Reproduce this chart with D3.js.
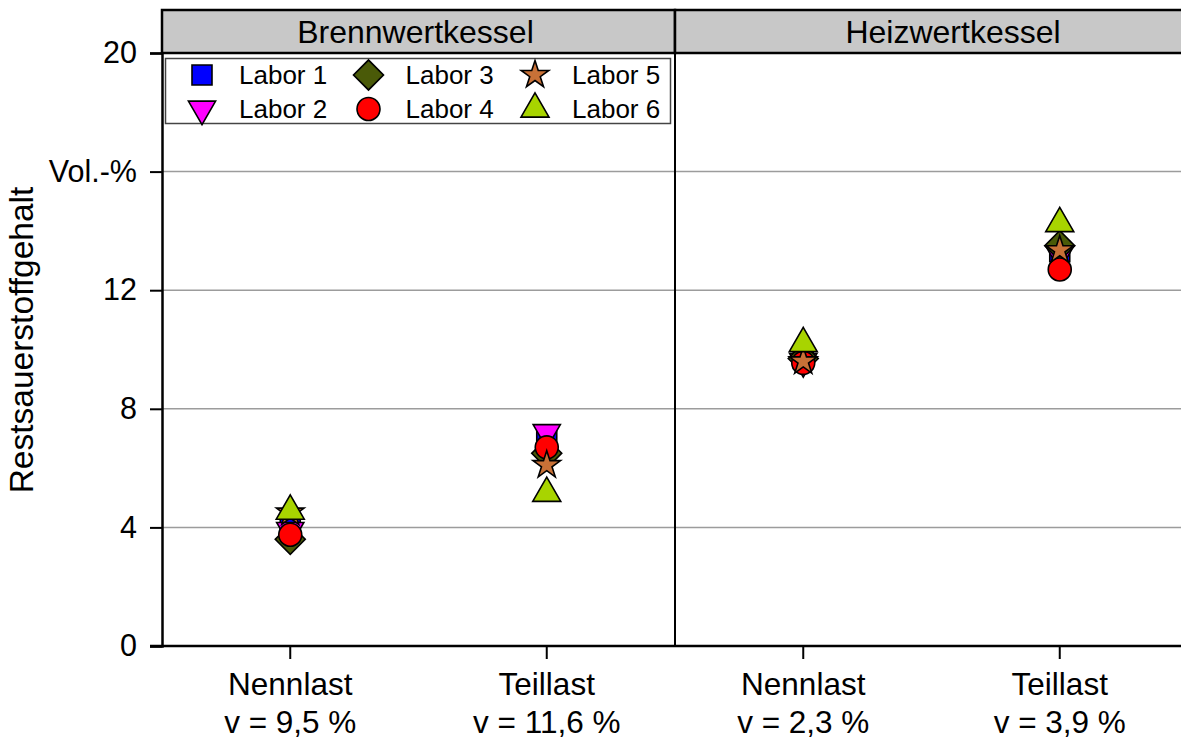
<!DOCTYPE html>
<html>
<head>
<meta charset="utf-8">
<script src="https://cdn.jsdelivr.net/npm/d3@7"></script>
<style>
  body { margin: 0; background: #fff; }
  text { font-family: Arial, "Liberation Sans", sans-serif; fill: #000; }
</style>
</head>
<body>
<svg id="chart"></svg>
<script>
// data
const panels = ['Brennwertkessel', 'Heizwertkessel'];
const categories = ['Nennlast', 'Teillast'];
const variation = [['9,5', '11,6'], ['2,3', '3,9']];
const labs = ['Labor 1', 'Labor 2', 'Labor 3', 'Labor 4', 'Labor 5', 'Labor 6'];
// values per lab: [BW Nennlast, BW Teillast, HW Nennlast, HW Teillast]
const labor1 = [4.0, 6.9, 9.7, 13.3];
const labor2 = [3.9, 7.2, 9.6, 13.2];
const labor3 = [3.6, 6.5, 9.7, 13.5];
const labor4 = [3.75, 6.7, 9.55, 12.7];
const labor5 = [4.5, 6.1, 9.6, 13.35];
const labor6 = [4.55, 5.15, 10.2, 14.25];
const yTicks = [0, 4, 8, 12, 16, 20];

const series = [labor1, labor2, labor3, labor4, labor5, labor6];

// size and layout
const W = 1181, H = 740;
const plot = { left: 162, top: 53, bottom: 646 };
const panelWidth = 513;
const stripTop = 10;

// marker styles
const colors = ['#0000ff', '#ff00ff', '#4a5a08', '#ff0000', '#c87137', '#a8d400'];
const shapes = [
  { type: d3.symbolSquare, size: 400, rot: 0 },
  { type: d3.symbolTriangle, size: 320, rot: 180 },
  { type: d3.symbolSquare, size: 450, rot: 45 },
  { type: d3.symbolCircle, size: 415, rot: 0 },
  { type: d3.symbolStar, size: 236, rot: 0 },
  { type: d3.symbolTriangle, size: 340, rot: 0 }
];

const svg = d3.select('#chart')
  .attr('width', W)
  .attr('height', H);

const y = d3.scaleLinear().domain([0, 20]).range([plot.bottom, plot.top]);
const x = d3.scaleBand().domain(categories).range([0, panelWidth]);
const panelX = d3.scaleBand().domain(panels).range([plot.left, plot.left + 2 * panelWidth]);

// gridlines
svg.append('g').selectAll('line')
  .data(yTicks.filter(d => d > 0 && d < 20))
  .enter().append('line')
    .attr('x1', plot.left).attr('x2', W)
    .attr('y1', d => y(d)).attr('y2', d => y(d))
    .style('stroke', '#9c9c9c')
    .style('stroke-width', 1.5);

// strips
const strip = svg.append('g').selectAll('g')
  .data(panels)
  .enter().append('g')
    .attr('transform', d => `translate(${panelX(d)},0)`);

strip.append('rect')
  .attr('x', 0).attr('y', stripTop)
  .attr('width', (d, i) => i === 0 ? panelWidth : 560)
  .attr('height', plot.top - stripTop)
  .style('fill', '#c8c8c8')
  .style('stroke', '#000')
  .style('stroke-width', 2.5);

strip.append('text')
  .attr('x', (d, i) => i === 0 ? panelWidth / 2 - 3 : 278)
  .attr('y', 43)
  .attr('text-anchor', 'middle')
  .style('font-size', '32px')
  .text(d => d);

// panel divider
svg.append('line')
  .attr('x1', panelX(panels[1])).attr('x2', panelX(panels[1]))
  .attr('y1', plot.top).attr('y2', plot.bottom)
  .style('stroke', '#000').style('stroke-width', 2);

// y axis
const yAxis = svg.append('g')
  .attr('transform', `translate(${plot.left},0)`)
  .call(d3.axisLeft(y)
    .tickValues(yTicks)
    .tickSize(12)
    .tickPadding(13)
    .tickFormat(d => d === 16 ? 'Vol.-%' : d));
yAxis.select('.domain').style('stroke-width', 2.5);
yAxis.selectAll('.tick line').style('stroke-width', 2);
yAxis.selectAll('.tick text')
  .style('font-size', '30.5px')
  .style('font-family', 'Arial, "Liberation Sans", sans-serif');

svg.append('text')
  .attr('transform', `translate(33,340) rotate(-90)`)
  .attr('text-anchor', 'middle')
  .style('font-size', '33.5px')
  .text('Restsauerstoffgehalt');

// x axis line across both panels
svg.append('line')
  .attr('x1', plot.left - 12).attr('x2', W)
  .attr('y1', plot.bottom).attr('y2', plot.bottom)
  .style('stroke', '#000').style('stroke-width', 2.5);

panels.forEach((p, pi) => {
  const g = svg.append('g')
    .attr('transform', `translate(${panelX(p)},${plot.bottom})`);
  const ax = g.call(d3.axisBottom(x).tickSize(13).tickFormat(''));
  ax.select('.domain').remove();
  ax.selectAll('.tick line').style('stroke-width', 2);

  const lab = g.append('g').selectAll('text')
    .data(categories)
    .enter().append('text')
      .attr('text-anchor', 'middle')
      .style('font-size', '31.5px');
  lab.append('tspan')
    .attr('x', d => x(d) + x.bandwidth() / 2)
    .attr('y', 49)
    .text(d => d);
  lab.append('tspan')
    .attr('x', d => x(d) + x.bandwidth() / 2)
    .attr('y', 87)
    .text((d, i) => `v = ${variation[pi][i]} %`);
});

// markers
const symbolPath = (s) => d3.symbol().type(s.type).size(s.size)();

series.forEach((vals, li) => {
  const pts = vals.map((v, k) => ({
    px: panelX(panels[Math.floor(k / 2)]) + x(categories[k % 2]) + x.bandwidth() / 2,
    v
  }));
  svg.append('g').selectAll('path')
    .data(pts)
    .enter().append('path')
      .attr('d', symbolPath(shapes[li]))
      .attr('transform', d => `translate(${d.px},${y(d.v)}) rotate(${shapes[li].rot})`)
      .style('fill', colors[li])
      .style('stroke', '#000')
      .style('stroke-width', 1.6)
      .style('stroke-linejoin', 'miter');
});

// legend
const legend = svg.append('g');
legend.append('rect')
  .attr('x', 165.5).attr('y', 58.5)
  .attr('width', 505).attr('height', 65)
  .style('fill', '#fff')
  .style('stroke', '#444')
  .style('stroke-width', 1.5);

const item = legend.selectAll('.legend')
  .data(labs)
  .enter().append('g')
    .attr('class', 'legend')
    .attr('transform', (d, i) => `translate(${202 + Math.floor(i / 2) * 166.5},${i % 2 === 0 ? 75 : 109})`);

item.append('path')
  .attr('d', (d, i) => symbolPath(shapes[i]))
  .attr('transform', (d, i) => `rotate(${shapes[i].rot})`)
  .style('fill', (d, i) => colors[i])
  .style('stroke', '#000')
  .style('stroke-width', 1.6);

item.append('text')
  .attr('x', 37)
  .attr('y', 0)
  .attr('dy', '0.36em')
  .style('font-size', '26px')
  .text(d => d);
</script>
</body>
</html>
